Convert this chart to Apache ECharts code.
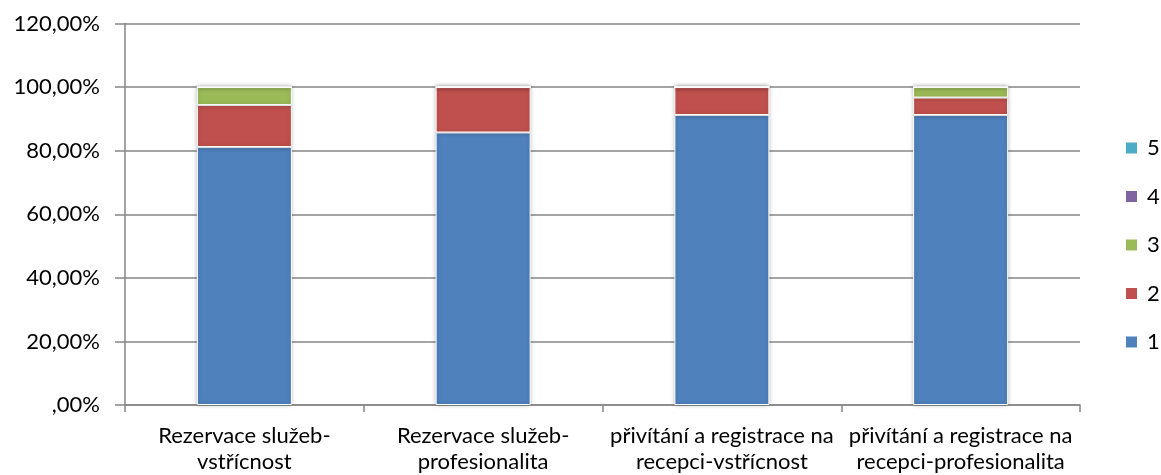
<!DOCTYPE html>
<html>
<head>
<meta charset="utf-8">
<script src="https://cdn.jsdelivr.net/npm/echarts@6/dist/echarts.min.js"></script>
<style>
  html, body { margin: 0; padding: 0; background: #fff; }
  #chart { width: 1161px; height: 475px; }
</style>
</head>
<body>
<div id="chart"></div>
<script>
// kategorie na ose x
const categories = [
  'Rezervace služeb-\nvstřícnost',
  'Rezervace služeb-\nprofesionalita',
  'přivítání a registrace na\nrecepci-vstřícnost',
  'přivítání a registrace na\nrecepci-profesionalita'
];
// hodnoty v procentech
const s1 = [81.13, 85.71, 91.2, 91.2];
const s2 = [13.21, 14.29, 8.8, 5.5];
const s3 = [5.66, 0, 0, 3.3];
const s4 = [0, 0, 0, 0];
const s5 = [0, 0, 0, 0];
const seriesNames = ['1', '2', '3', '4', '5'];
const colors = ['#4F81BD', '#C0504D', '#9BBB59', '#8064A2', '#4BACC6'];

const font = 'Lato, "Open Sans", sans-serif';
const chart = echarts.init(document.getElementById('chart'));

const makeSeries = (name, data, color) => ({
  name,
  type: 'bar',
  stack: 'total',
  data,
  barWidth: 95,
  itemStyle: {
    color,
    borderColor: '#fff',
    borderWidth: 1,
    shadowColor: 'rgba(0,0,0,0.25)',
    shadowBlur: 4
  },
  emphasis: { disabled: true }
});

chart.setOption({
  animation: false,
  color: colors,
  grid: { left: 125, right: 81, top: 23.5, bottom: 69.5 },
  legend: {
    orient: 'vertical',
    left: 1124,
    top: 137,
    padding: 0,
    itemWidth: 13,
    itemHeight: 13,
    itemGap: 26.5,
    icon: 'rect',
    data: ['5', '4', '3', '2', '1'],
    textStyle: { fontFamily: font, fontSize: 22, lineHeight: 22, color: '#000', padding: [0, 0, 0, 4] }
  },
  xAxis: {
    type: 'category',
    data: categories,
    axisLine: { lineStyle: { color: '#868686', width: 1.5 } },
    axisTick: { show: true, length: 7, lineStyle: { color: '#868686', width: 1.5 } },
    axisLabel: {
      fontFamily: font,
      fontSize: 22,
      color: '#000',
      lineHeight: 26,
      margin: 18,
      interval: 0
    }
  },
  yAxis: {
    type: 'value',
    min: 0,
    max: 120,
    interval: 20,
    axisLine: { show: true, lineStyle: { color: '#868686', width: 1.5 } },
    axisTick: { show: true, length: 10, lineStyle: { color: '#868686', width: 1.5 } },
    splitLine: { lineStyle: { color: '#868686', width: 1.5 } },
    axisLabel: {
      fontFamily: font,
      fontSize: 22,
      color: '#000',
      margin: 25,
      formatter: v => (v === 0 ? '' : String(v)) + ',00%'
    }
  },
  series: [
    makeSeries(seriesNames[0], s1, colors[0]),
    makeSeries(seriesNames[1], s2, colors[1]),
    makeSeries(seriesNames[2], s3, colors[2]),
    makeSeries(seriesNames[3], s4, colors[3]),
    makeSeries(seriesNames[4], s5, colors[4])
  ]
});
</script>
</body>
</html>
